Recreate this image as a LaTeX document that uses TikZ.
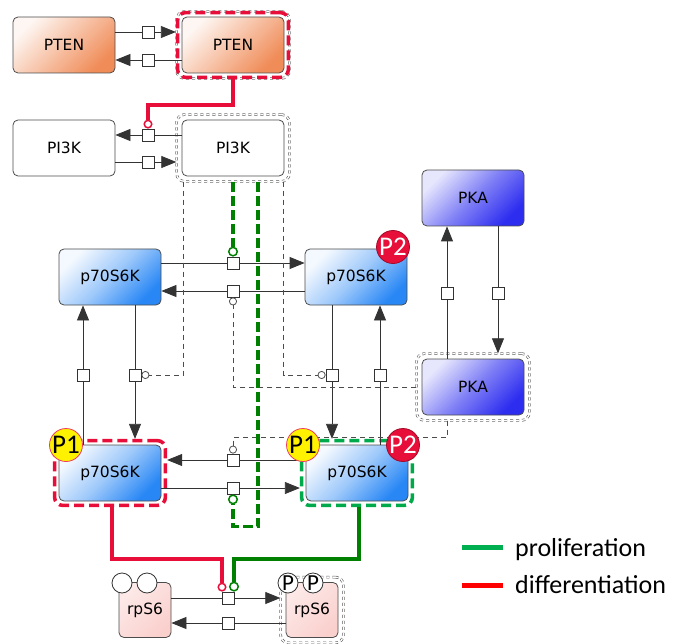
\documentclass[tikz,border=0pt]{standalone}
\usepackage{fontspec}
\setmainfont{DejaVu Sans}
\newfontfamily\calib{Carlito}
\usepackage{tikz}
\usetikzlibrary{arrows.meta}
\usetikzlibrary{calc}
\usetikzlibrary{fit}
\definecolor{ptenorange}{RGB}{240,140,88}
\definecolor{kinaseblue}{RGB}{40,135,245}
\definecolor{pkaviolet}{RGB}{45,45,240}
\definecolor{rpspink}{RGB}{250,208,205}
\definecolor{diffred}{RGB}{232,14,58}
\definecolor{prolgreen}{RGB}{0,128,0}
\definecolor{outgreen}{RGB}{0,170,75}
\definecolor{legred}{RGB}{255,0,0}
\definecolor{leggreen}{RGB}{0,176,80}
\tikzstyle{species}=[rectangle,rounded corners=5pt,draw=black!70,line width=0.8pt,minimum width=102pt,minimum height=56pt,inner sep=0pt,font=\fontsize{15.5}{17}\selectfont]
\tikzstyle{ptenbox}=[species,top color=ptenorange!8,bottom color=ptenorange,shading angle=45]
\tikzstyle{pi3kbox}=[species,fill=white]
\tikzstyle{s6kbox}=[species,top color=kinaseblue!5,bottom color=kinaseblue,middle color=kinaseblue!45,shading angle=45]
\tikzstyle{pkabox}=[species,top color=pkaviolet!12,bottom color=pkaviolet,middle color=pkaviolet!60,shading angle=45]
\tikzstyle{rpsbox}=[species,minimum width=52pt,minimum height=55pt,top color=rpspink!45,bottom color=rpspink,shading angle=45]
\tikzstyle{clone}=[rectangle,rounded corners=8pt,draw=black!65,dashed,double=white,double distance=1.4pt,line width=0.6pt,inner sep=5pt]
\tikzstyle{diffbox}=[rectangle,rounded corners=8pt,draw=diffred,line width=3.5pt,dash pattern=on 10pt off 5pt,inner sep=4pt]
\tikzstyle{prolbox}=[rectangle,rounded corners=8pt,draw=outgreen,line width=3.5pt,dash pattern=on 10pt off 5pt,inner sep=4pt]
\tikzstyle{process}=[rectangle,draw=black!80,fill=white,line width=0.8pt,minimum size=12pt,inner sep=0pt]
\tikzstyle{flow}=[draw=black!80,line width=0.8pt]
\tikzstyle{conv}=[flow,-{Triangle[length=15pt,width=12pt]}]
\tikzstyle{modline}=[draw=black!70,line width=0.9pt,dash pattern=on 5pt off 4pt,-{Circle[open,length=8pt,width=8pt,line width=0.8pt]}]
\tikzstyle{diffline}=[draw=diffred,line width=3.5pt,-{Circle[open,length=9pt,width=9pt,line width=1.5pt]}]
\tikzstyle{prolline}=[draw=prolgreen,line width=3.5pt,-{Circle[open,length=10pt,width=10pt,line width=1.5pt]}]
\tikzstyle{proldash}=[prolline,dash pattern=on 10pt off 4pt]
\tikzstyle{badge}=[circle,minimum size=33pt,inner sep=0pt,line width=0.8pt,font=\calib\fontsize{27}{27}\selectfont]
\tikzstyle{pone}=[badge,fill=yellow,draw=diffred!80]
\tikzstyle{ptwo}=[badge,fill=diffred,draw=diffred!70!black,text=white]
\tikzstyle{site}=[circle,draw=black!80,fill=white,line width=0.8pt,minimum size=20pt,inner sep=0pt,font=\calib\fontsize{23}{23}\selectfont]
\tikzstyle{legtext}=[anchor=base west,inner sep=0pt,font=\calib\fontsize{26}{26}\selectfont]

\begin{document}
\begin{tikzpicture}[x=1pt,y=-1pt]
    \useasboundingbox (0,0) rectangle (674,644);
    % species
    \node[ptenbox] at (64,45) (ptenA) {PTEN};
    \node[ptenbox] at (233,45) (ptenB) {PTEN};
    \node[clone,fit=(ptenB)] (ptenBo) {};
    \node[diffbox,fit=(ptenB)] (ptenBd) {};
    \node[pi3kbox] at (64,148) (pi3kA) {PI3K};
    \node[pi3kbox] at (233,148) (pi3kB) {PI3K};
    \node[clone,fit=(pi3kB)] (pi3kBo) {};
    \node[s6kbox] at (110,277) (s6kTL) {p70S6K};
    \node[s6kbox] at (356,277) (s6kTR) {p70S6K};
    \node[pkabox] at (473,198) (pkaT) {PKA};
    \node[pkabox] at (473,387) (pkaB) {PKA};
    \node[clone,fit=(pkaB)] (pkaBo) {};
    \node[s6kbox] at (110,473) (s6kBL) {p70S6K};
    \node[diffbox,fit=(s6kBL)] (s6kBLo) {};
    \node[s6kbox] at (357,473) (s6kBR) {p70S6K};
    \node[prolbox,fit=(s6kBR)] (s6kBRo) {};
    \node[rpsbox] at (145,610) (rpsA) {rpS6};
    \node[rpsbox] at (312,610) (rpsB) {rpS6};
    \node[clone,fit=(rpsB)] (rpsBo) {};
    % processes
    \node[process] at (148,32) (pA) {};
    \node[process] at (148,60) (pB) {};
    \node[process] at (148,135) (pC) {};
    \node[process] at (148,162) (pD) {};
    \node[process] at (233,263) (pE) {};
    \node[process] at (233,291) (pF) {};
    \node[process] at (83,375) (pG) {};
    \node[process] at (135,375) (pH) {};
    \node[process] at (332,375) (pI) {};
    \node[process] at (380,375) (pJ) {};
    \node[process] at (447,293) (pK) {};
    \node[process] at (498,293) (pL) {};
    \node[process] at (233,460) (pM) {};
    \node[process] at (233,488) (pN) {};
    \node[process] at (228,598) (pO) {};
    \node[process] at (228,623) (pP) {};
    % transitions
    \draw[flow] (pA -| ptenA.east) -- (pA);
    \draw[conv] (pA) -- (pA -| ptenBd.west);
    \draw[flow] (pB -| ptenB.west) -- (pB);
    \draw[conv] (pB) -- (pB -| ptenA.east);
    \draw[flow] (pC -| pi3kB.west) -- (pC);
    \draw[conv] (pC) -- (pC -| pi3kA.east);
    \draw[flow] (pD -| pi3kA.east) -- (pD);
    \draw[conv] (pD) -- (pD -| pi3kBo.west);
    \draw[flow] (pE -| s6kTL.east) -- (pE);
    \draw[conv] (pE) -- (pE -| s6kTR.west);
    \draw[flow] (pF -| s6kTR.west) -- (pF);
    \draw[conv] (pF) -- (pF -| s6kTL.east);
    \draw[flow] (pG |- s6kBL.north) -- (pG);
    \draw[conv] (pG) -- (pG |- s6kTL.south);
    \draw[flow] (pH |- s6kTL.south) -- (pH);
    \draw[conv] (pH) -- (pH |- s6kBLo.north);
    \draw[flow] (pI |- s6kTR.south) -- (pI);
    \draw[conv] (pI) -- (pI |- s6kBRo.north);
    \draw[flow] (pJ |- s6kBR.north) -- (pJ);
    \draw[conv] (pJ) -- (pJ |- s6kTR.south);
    \draw[flow] (pK |- pkaB.north) -- (pK);
    \draw[conv] (pK) -- (pK |- pkaT.south);
    \draw[flow] (pL |- pkaT.south) -- (pL);
    \draw[conv] (pL) -- (pL |- pkaBo.north);
    \draw[flow] (pM -| s6kBR.west) -- (pM);
    \draw[conv] (pM) -- (pM -| s6kBLo.east);
    \draw[flow] (pN -| s6kBL.east) -- (pN);
    \draw[conv] (pN) -- (pN -| s6kBRo.west);
    \draw[flow] (pO -| rpsA.east) -- (pO);
    \draw[conv] (pO) -- (pO -| rpsBo.west);
    \draw[flow] (pP -| rpsB.west) -- (pP);
    \draw[conv] (pP) -- (pP -| rpsA.east);
    % modulations
    \draw[modline] ($(pi3kBo.south west)+(7,0)$) |- (pH);
    \draw[modline] ($(pi3kBo.south east)+(-6,0)$) |- (pI);
    \draw[modline] (pkaBo.west) -| (pF);
    \draw[modline] ($(pkaBo.south)+(-26,0)$) -- ++(0,17) -| (pM);
    \draw[diffline] (ptenBd.south) -- ++(0,26) -| (pC);
    \draw[proldash] (pE |- pi3kBo.south) -- (pE);
    \draw[proldash] ($(pi3kBo.south)+(25,0)$) -- ++(0,345) -| (pN);
    \draw[diffline] ($(s6kBLo.south)+(2,0)$) -- ++(0,52) -| ($(pO.north)+(-6,0)$);
    \draw[prolline] ($(s6kBRo.south)+(2,0)$) -- ++(0,52) -| ($(pO.north)+(6,0)$);
    % sites
    \node[ptwo] at (393,247) (s6kTRp2) {P2};
    \node[pone] at (66,445) (s6kBLp1) {P1};
    \node[pone] at (303,445) (s6kBRp1) {P1};
    \node[ptwo] at (403,445) (s6kBRp2) {P2};
    \node[site] at (122,583) (rpsAs1) {};
    \node[site] at (147,583) (rpsAs2) {};
    \node[site] at (288,583) (rpsBs1) {P};
    \node[site] at (313,583) (rpsBs2) {P};
    % legend
    \coordinate (legG1) at (462,547);
    \coordinate (legG2) at (503,547);
    \coordinate (legR1) at (462,585);
    \coordinate (legR2) at (503,585);
    \draw[draw=leggreen,line width=5pt] (legG1) -- (legG2);
    \draw[draw=legred,line width=5pt] (legR1) -- (legR2);
    \node[legtext] at (515,556) (legGt) {proliferation};
    \node[legtext] at (515,593) (legRt) {differentiation};
\end{tikzpicture}
\end{document}
